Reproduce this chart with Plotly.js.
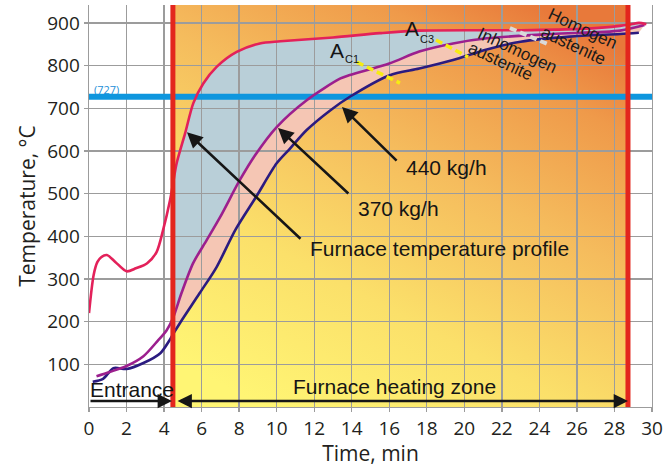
<!DOCTYPE html>
<html><head><meta charset="utf-8">
<script src="https://cdn.plot.ly/plotly-3.0.1.min.js"></script>
<style>html,body{margin:0;padding:0;background:#fff;} #chart{width:666px;height:467px;}</style>
</head><body><div id="chart"></div>
<script>
// ---- data ----
const furnaceTime = [0, 0.25, 0.45, 0.65, 0.95, 1.4, 2.0, 2.5, 3.1, 3.6, 3.95, 4.32, 4.47, 4.67, 5.12, 5.56, 6.09, 6.8, 7.87, 9.1, 10.2, 13.0, 15.5, 17.6, 23.0, 26.2, 28.3, 28.9, 29.3, 29.7];
const furnaceTemp = [220, 310, 340, 351, 356, 340, 318, 325, 337, 363, 415, 485, 522, 571, 641, 712, 758, 797, 832, 852, 857, 866, 876, 882, 883, 886, 893, 897, 900, 897];
const time370 = [0.4, 1.1, 2.0, 2.9, 3.6, 4.14, 4.47, 4.93, 5.55, 6.27, 7.0, 8.04, 8.85, 10.0, 11.6, 13.4, 13.9, 16.0, 17.6, 19.4, 21.2, 24.7, 28.3, 29.6];
const temp370 = [72, 82, 96, 119, 152, 180, 208, 267, 337, 391, 446, 532, 590, 656, 719, 770, 778, 805, 833, 852, 864, 874, 882, 895];
const time440 = [0.2, 0.75, 1.3, 2.0, 2.9, 3.8, 4.3, 4.47, 4.85, 5.9, 6.8, 7.8, 8.9, 10.0, 10.7, 11.6, 12.85, 13.9, 16.0, 17.6, 19.4, 21.2, 23.0, 25.6, 28.3, 29.3];
const temp440 = [59, 66, 91, 89, 103, 126, 157, 170, 197, 267, 328, 415, 492, 571, 605, 649, 695, 727, 777, 793, 813, 838, 856, 868, 874, 877];
const xTickVals = [0, 2, 4, 6, 8, 10, 12, 14, 16, 18, 20, 22, 24, 26, 28, 30];
const yTickVals = [100, 200, 300, 400, 500, 600, 700, 800, 900];
const zoneStart = 4.47;   // furnace entry (min)
const zoneEnd = 28.72;    // furnace exit (min)
const a1Temp = 727;       // eutectoid temperature
const xRange = [0, 30];
const yRange = [0, 942];

// ---- helpers ----
function fromZone(t, v) {
  const xs = [], ys = [];
  t.forEach((x, i) => { if (x >= zoneStart) { xs.push(x); ys.push(v[i]); } });
  return {x: xs, y: ys};
}
const f440 = fromZone(time440, temp440);
const f370 = fromZone(time370, temp370);
const fFur = fromZone(furnaceTime, furnaceTemp);

const bgSvg = '<svg xmlns="http://www.w3.org/2000/svg" width="400" height="400" viewBox="0 0 400 400" preserveAspectRatio="none">' +
  '<defs><linearGradient id="g" x1="0.2" y1="1" x2="0.8" y2="0">' +
  '<stop offset="0" stop-color="#FFF574"/>' +
  '<stop offset="0.3" stop-color="#FBE06A"/>' +
  '<stop offset="0.6" stop-color="#F5BC5D"/>' +
  '<stop offset="0.85" stop-color="#EF9A4A"/>' +
  '<stop offset="1" stop-color="#E8793A"/>' +
  '</linearGradient></defs>' +
  '<rect x="0" y="0" width="400" height="400" fill="url(#g)"/></svg>';
const bgUri = 'data:image/svg+xml;charset=utf-8,' + encodeURIComponent(bgSvg);

const sp = {shape: 'spline', smoothing: 0.8};
const traces = [
  // fills (lower subplot, under the grid)
  {x: f440.x, y: f440.y, xaxis: 'x', yaxis: 'y', mode: 'lines', line: Object.assign({width: 0}, sp), hoverinfo: 'skip'},
  {x: f370.x, y: f370.y, xaxis: 'x', yaxis: 'y', mode: 'lines', line: Object.assign({width: 0}, sp), fill: 'tonexty', fillcolor: '#F5C6B4', hoverinfo: 'skip'},
  {x: fFur.x, y: fFur.y, xaxis: 'x', yaxis: 'y', mode: 'lines', line: Object.assign({width: 0}, sp), fill: 'tonexty', fillcolor: '#B9CFD8', hoverinfo: 'skip'},
  // curves (upper subplot)
  {x: time440, y: temp440, xaxis: 'x2', yaxis: 'y2', mode: 'lines', name: '440 kg/h', line: Object.assign({color: '#2B1B80', width: 2.6}, sp)},
  {x: time370, y: temp370, xaxis: 'x2', yaxis: 'y2', mode: 'lines', name: '370 kg/h', line: Object.assign({color: '#9C1F8E', width: 2.6}, sp)},
  {x: furnaceTime, y: furnaceTemp, xaxis: 'x2', yaxis: 'y2', mode: 'lines', name: 'Furnace temperature profile', line: Object.assign({color: '#E3215A', width: 2.6}, sp)}
];

const labelFont = {family: 'Liberation Sans, Arial, sans-serif', size: 21, color: '#151515'};
const subFont = {family: 'Liberation Sans, Arial, sans-serif', size: 11, color: '#151515'};
const tickFont = {family: 'Open Sans, sans-serif', size: 19, color: '#231F20'};
const titleFont = {family: 'Open Sans, sans-serif', size: 21, color: '#231F20'};
const gridC = '#9C9C9C';

function txt(text, x, y, opts) {
  return Object.assign({xref: 'x2', yref: 'y2', x: x, y: y, text: text, showarrow: false, font: labelFont, xanchor: 'center', yanchor: 'middle', borderpad: 0}, opts || {});
}
function arrow(x, y, ax, ay, opts) {
  return Object.assign({xref: 'x2', yref: 'y2', axref: 'x2', ayref: 'y2', x: x, y: y, ax: ax, ay: ay, text: '', showarrow: true,
    arrowhead: 2, arrowsize: 1.2, arrowwidth: 2.6, arrowcolor: '#161616', standoff: 0, startstandoff: 0}, opts || {});
}

const rotFont = {family: 'Liberation Sans, Arial, sans-serif', size: 17, color: '#1a1a1a'};
const annotations = [
  txt('Furnace temperature profile', 11.72, 372, {xanchor: 'left'}),
  txt('370 kg/h', 14.28, 466, {xanchor: 'left'}),
  txt('440 kg/h', 16.84, 562, {xanchor: 'left'}),
  txt('Entrance', 0, 42, {xanchor: 'left'}),
  txt('Furnace heating zone', 16.3, 49),
  txt('(727)', 0.21, 745, {xanchor: 'left', font: {family: 'Open Sans, sans-serif', size: 11, color: '#1C8FD8'}}),
  txt('A', 12.79, 836, {xanchor: 'left'}),
  txt('C1', 13.6, 816, {xanchor: 'left', font: subFont}),
  txt('A', 16.78, 886, {xanchor: 'left'}),
  txt('C3', 17.59, 862, {xanchor: 'left', font: subFont}),
  txt('Inhomogen', 22.83, 836, {textangle: 25, font: rotFont}),
  txt('austenite', 21.95, 810, {textangle: 25, font: rotFont}),
  txt('Homogen', 26.3, 888, {textangle: 25, font: rotFont}),
  txt('austenite', 25.8, 848, {textangle: 25, font: rotFont}),
  arrow(5.22, 644, 11.35, 391),
  arrow(10.07, 654, 13.9, 497),
  arrow(13.48, 703, 16.47, 574),
  arrow(4.42, 14, 0, 14, {arrowsize: 1.1}),
  arrow(zoneEnd, 14, 4.64, 14, {arrowside: 'end+start', startarrowhead: 2, startarrowsize: 1.1, arrowsize: 1.1})
];

const shapes = [
  {type: 'line', xref: 'x2', yref: 'y2', x0: xRange[0], x1: xRange[1], y0: a1Temp, y1: a1Temp, line: {color: '#0E96DE', width: 6}, layer: 'between'},
  {type: 'line', xref: 'x2', yref: 'paper', x0: zoneStart, x1: zoneStart, y0: 0, y1: 1, line: {color: '#E3261D', width: 5}, layer: 'above'},
  {type: 'line', xref: 'x2', yref: 'paper', x0: zoneEnd, x1: zoneEnd, y0: 0, y1: 1, line: {color: '#E3261D', width: 5}, layer: 'above'},
  {type: 'line', xref: 'x2', yref: 'y2', x0: 14.28, y0: 808, x1: 16.57, y1: 759, line: {color: '#F6EC12', width: 3.5, dash: '7px,4px'}, layer: 'above'},
  {type: 'line', xref: 'x2', yref: 'y2', x0: 18.49, y0: 860, x1: 20.2, y1: 820, line: {color: '#F6EC12', width: 3.5, dash: '7px,4px'}, layer: 'above'},
  {type: 'line', xref: 'x2', yref: 'y2', x0: 22.43, y0: 888, x1: 24.46, y1: 850, line: {color: '#DADADA', width: 4, dash: '7px,4px'}, layer: 'above'}
];

const layout = {
  width: 666, height: 467,
  margin: {l: 89, r: 14, t: 5, b: 60},
  paper_bgcolor: '#ffffff',
  plot_bgcolor: 'rgba(0,0,0,0)',
  showlegend: false,
  hovermode: false,
  xaxis: {domain: [0, 1], range: xRange, visible: false, fixedrange: true},
  yaxis: {domain: [0, 1], range: yRange, visible: false, fixedrange: true},
  xaxis2: {domain: [0, 1], anchor: 'y2', range: xRange, tickvals: xTickVals, ticktext: xTickVals.map(String),
    showgrid: true, gridcolor: gridC, gridwidth: 1.4, zeroline: false,
    showline: true, linecolor: gridC, linewidth: 1.4, ticks: 'outside', ticklen: 4, tickcolor: gridC, tickwidth: 1.4,
    tickfont: tickFont, title: {text: 'Time, min', font: titleFont, standoff: 6}},
  yaxis2: {domain: [0, 1], anchor: 'x2', range: yRange, tickvals: yTickVals, ticktext: yTickVals.map(String),
    showgrid: true, gridcolor: gridC, gridwidth: 1.4, zeroline: false, mirror: true,
    showline: true, linecolor: gridC, linewidth: 1.4, ticks: 'outside', ticklen: 4, tickcolor: gridC, tickwidth: 1.4,
    tickfont: tickFont, title: {text: 'Temperature, °C', font: titleFont, standoff: 6}},
  images: [{source: bgUri, xref: 'x', yref: 'y', x: zoneStart, y: yRange[1], sizex: zoneEnd - zoneStart, sizey: yRange[1] - yRange[0],
    xanchor: 'left', yanchor: 'top', sizing: 'stretch', layer: 'below'}],
  shapes: shapes,
  annotations: annotations
};

Plotly.newPlot('chart', traces, layout, {staticPlot: true, displayModeBar: false});
</script>
</body></html>
